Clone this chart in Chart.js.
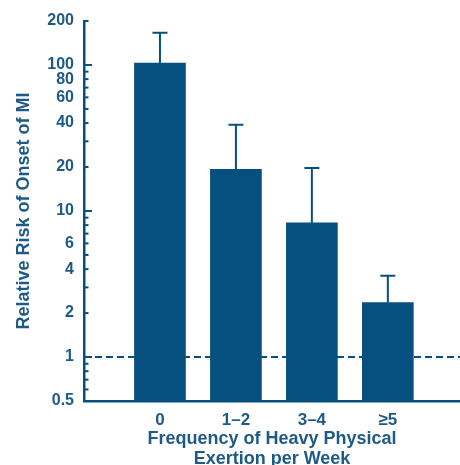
<!DOCTYPE html>
<html><head><meta charset="utf-8">
<script src="https://cdn.jsdelivr.net/npm/chart.js@4"></script>
<style>html,body{margin:0;padding:0;background:#fff}#wrap{width:460px;height:465px;position:relative}</style>
</head><body><div id="wrap"><canvas id="c"></canvas></div>
<script>
const categories = ['0', '1–2', '3–4', '≥5'];
const riskValues = [103, 19.3, 8.3, 2.36];
const upperCI = [166, 39, 19.7, 3.6];
const refValue = 1;
const xRange = [-1, 3.95];
const yRange = [0.5, 200];
const yLabelTicks = [0.5, 1, 2, 4, 6, 10, 20, 40, 60, 80, 100, 200];
const yMinorTicks = [0.6, 0.7, 0.8, 0.9, 3, 5, 7, 8, 9, 30, 50, 70, 90];
const yLongTicks = [1, 10, 100];

const COLOR = '#05507e';
const TEXT = '#1d5a88';
const FONT = 'Liberation Sans, Arial, sans-serif';

const errorBars = {
  id: 'errorBars',
  afterDatasetsDraw(chart) {
    const meta = chart.getDatasetMeta(0);
    const y = chart.scales.y, ctx = chart.ctx;
    ctx.save();
    ctx.strokeStyle = COLOR; ctx.lineWidth = 2;
    meta.data.forEach((bar, i) => {
      const top = y.getPixelForValue(upperCI[i]);
      ctx.beginPath();
      ctx.moveTo(bar.x, bar.y); ctx.lineTo(bar.x, top);
      ctx.moveTo(bar.x - 7.5, top); ctx.lineTo(bar.x + 7.5, top);
      ctx.stroke();
    });
    ctx.restore();
  }
};
const innerTicks = {
  id: 'innerTicks',
  afterDraw(chart) {
    const y = chart.scales.y, ctx = chart.ctx, x0 = chart.chartArea.left;
    ctx.save();
    ctx.strokeStyle = COLOR; ctx.lineWidth = 2;
    yLabelTicks.concat(yMinorTicks).forEach(v => {
      const len = yLongTicks.includes(v) ? 8 : 4.5;
      const py = y.getPixelForValue(v);
      ctx.beginPath(); ctx.moveTo(x0, py); ctx.lineTo(x0 + len, py); ctx.stroke();
    });
    ctx.restore();
  }
};

new Chart(document.getElementById('c'), {
  data: {
    datasets: [
      {
        type: 'bar',
        data: riskValues.map((v, i) => ({x: i, y: v})),
        backgroundColor: COLOR,
        borderWidth: 0,
        barThickness: 51,
        order: 0
      },
      {
        type: 'line',
        data: xRange.map(x => ({x: x, y: refValue})),
        borderColor: COLOR,
        borderWidth: 2,
        borderDash: [7, 4],
        pointRadius: 0,
        fill: false,
        order: 1
      }
    ]
  },
  options: {
    responsive: true,
    maintainAspectRatio: false,
    animation: false,
    layout: {padding: {top: 21, right: 0, left: 0, bottom: 0}},
    plugins: {legend: {display: false}, tooltip: {enabled: false}},
    scales: {
      x: {
        type: 'linear',
        offset: false,
        min: xRange[0], max: xRange[1],
        afterBuildTicks: s => { s.ticks = categories.map((c, i) => ({value: i})); },
        afterFit: s => { s.height = 64; },
        grid: {display: false, drawTicks: false},
        border: {display: true, color: COLOR, width: 2.5},
        ticks: {
          callback: v => categories[v],
          color: TEXT, padding: 9, autoSkip: false, maxRotation: 0,
          font: {family: FONT, size: 17, weight: 'bold'}
        },
        title: {
          display: true,
          text: ['Frequency of Heavy Physical', 'Exertion per Week'],
          color: TEXT,
          padding: {top: 0, bottom: -4},
          font: {family: FONT, size: 18, weight: 'bold', lineHeight: 1.1}
        }
      },
      y: {
        type: 'logarithmic',
        min: yRange[0], max: yRange[1],
        afterBuildTicks: s => { s.ticks = yLabelTicks.map(v => ({value: v})); },
        afterFit: s => { s.width = 84; },
        grid: {display: false, drawTicks: false},
        border: {display: true, color: COLOR, width: 2.5},
        ticks: {
          callback: v => String(v),
          color: TEXT, padding: 10, autoSkip: false,
          font: {family: FONT, size: 16, weight: 'bold'}
        },
        title: {
          display: true,
          text: 'Relative Risk of Onset of MI',
          color: TEXT,
          padding: {top: 13, bottom: 0},
          font: {family: FONT, size: 18, weight: 'bold'}
        }
      }
    }
  },
  plugins: [errorBars, innerTicks]
});
</script>
</body></html>
